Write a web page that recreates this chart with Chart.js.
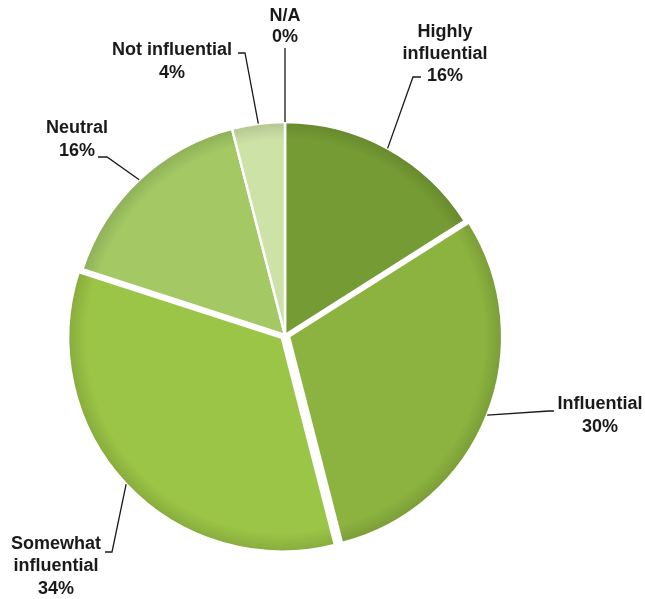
<!DOCTYPE html>
<html>
<head>
<meta charset="utf-8">
<script src="https://cdn.jsdelivr.net/npm/chart.js@4"></script>
<style>
	html, body { margin: 0; padding: 0; background: #fff; }
	#wrap { width: 645px; height: 599px; }
</style>
</head>
<body>
<div id="wrap"><canvas id="pie"></canvas></div>
<script>
// slices, clockwise from 12 o'clock
const labels = ['Highly influential', 'Influential', 'Somewhat influential', 'Neutral', 'Not influential', 'N/A'];
const values = [16, 30, 34, 16, 4, 0];
const colors = ['#759c34', '#8cb340', '#9bc546', '#a3c864', '#cde2a6', '#e2efcc'];
const offsets = [0, 17, 17, 0, 0, 0];

// where each label's text sits, and where its leader line bends (layout only)
const labelText = [
	{lines: ['Highly', 'influential', '16%'], x: 445, y: 32, step: 22},
	{lines: ['Influential', '30%'], x: 600, y: 404, step: 23},
	{lines: ['Somewhat', 'influential', '34%'], x: 56, y: 544, step: 22.5},
	{lines: ['Neutral', '16%'], x: 77, y: 128, step: 23},
	{lines: ['Not influential', '4%'], x: 172, y: 50, step: 23},
	{lines: ['N/A', '0%'], x: 285, y: 16, step: 21}
];
const elbows = [
	[[413, 77], [421, 77]],
	[[549, 411], [554, 411]],
	[[112, 552], [105, 552]],
	[[107, 157], [98, 157]],
	[[245, 53], [238, 53]],
	[[285, 48]]
];

const darken = (hex, f) => {
	const n = parseInt(hex.slice(1), 16);
	const r = Math.round(((n >> 16) & 255) * f), g = Math.round(((n >> 8) & 255) * f), b = Math.round((n & 255) * f);
	return `rgb(${r},${g},${b})`;
};

const leaderLabels = {
	id: 'leaderLabels',
	afterDatasetsDraw(chart) {
		const ctx = chart.ctx;
		const arcs = chart.getDatasetMeta(0).data;
		ctx.save();
		ctx.strokeStyle = '#1a1a1a';
		ctx.lineWidth = 1.3;
		arcs.forEach((arc, i) => {
			const p = arc.getProps(['x', 'y', 'startAngle', 'endAngle', 'outerRadius', 'circumference']);
			const mid = (p.startAngle + p.endAngle) / 2;
			// same shift the arc element applies for its offset
			const fix = 1 - Math.sin(Math.min(Math.PI, p.circumference || 0));
			const shift = offsets[i] / 4 * (1 + fix);
			const sx = p.x + Math.cos(mid) * (p.outerRadius + shift);
			const sy = p.y + Math.sin(mid) * (p.outerRadius + shift);
			ctx.beginPath();
			ctx.moveTo(sx, sy);
			elbows[i].forEach(pt => ctx.lineTo(pt[0], pt[1]));
			ctx.stroke();
		});
		ctx.fillStyle = '#1a1a1a';
		ctx.font = 'bold 18px "Liberation Sans", Arial, sans-serif';
		ctx.textAlign = 'center';
		ctx.textBaseline = 'middle';
		labelText.forEach(l => {
			l.lines.forEach((t, k) => ctx.fillText(t, l.x, l.y + k * l.step));
		});
		ctx.restore();
	}
};

const sliceFill = c => {
	const chart = c.chart;
	const base = colors[c.dataIndex];
	if (!chart.chartArea) return base;
	const cx = (chart.chartArea.left + chart.chartArea.right) / 2;
	const cy = (chart.chartArea.top + chart.chartArea.bottom) / 2;
	const g = chart.ctx.createRadialGradient(cx, cy, 0, cx, cy, 222);
	g.addColorStop(0, base);
	g.addColorStop(0.88, base);
	g.addColorStop(0.97, darken(base, 0.86));
	g.addColorStop(1, darken(base, 0.7));
	return g;
};

new Chart(document.getElementById('pie'), {
	type: 'pie',
	data: {
		labels,
		datasets: [{
			data: values,
			backgroundColor: sliceFill,
			borderColor: '#ffffff',
			borderWidth: 2.5,
			offset: offsets,
			radius: 213
		}]
	},
	options: {
		responsive: true,
		maintainAspectRatio: false,
		animation: false,
		layout: {
			padding: {left: 60, right: 135, top: 100, bottom: 29}
		},
		plugins: {
			legend: {display: false},
			tooltip: {enabled: false}
		}
	},
	plugins: [leaderLabels]
});
</script>
</body>
</html>
